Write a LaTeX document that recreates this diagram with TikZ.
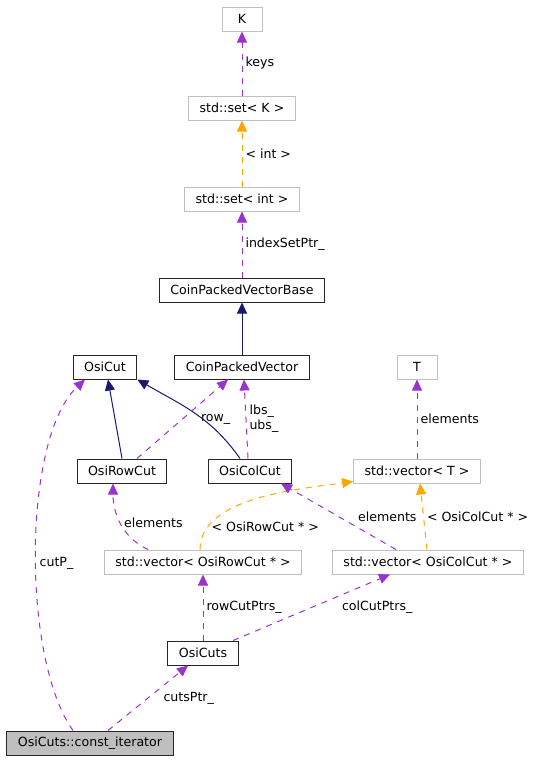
\documentclass[tikz,border=0pt]{standalone}
\usepackage{fontspec}
\setmainfont{DejaVu Sans}
\usetikzlibrary{positioning}
\usetikzlibrary{arrows.meta}
\tikzstyle{C} = [rectangle,draw=black!85,fill=white,line width=1pt,minimum height=24pt,minimum width=40pt,inner xsep=11pt,font=\fontsize{12.6}{15}\selectfont]
\tikzstyle{G} = [C,draw=black!25]
\tikzstyle{I} = [->,draw={rgb,255:red,25;green,25;blue,112},line width=1pt]
\tikzstyle{U} = [->,draw={rgb,255:red,154;green,50;blue,205},line width=1pt,dash pattern=on 6pt off 6pt]
\tikzstyle{O} = [U,draw={rgb,255:red,255;green,165;blue,0}]
\tikzstyle{L} = [inner sep=3pt,text=black,font=\fontsize{12.6}{15}\selectfont]
\tikzset{>={Triangle[length=11pt,width=10pt]}}

\begin{document}
\begin{tikzpicture}[on grid]
  \useasboundingbox (0,0) rectangle (540pt,-763pt);
  \node [G] (k) at (242pt,-19pt) {K};
  \node [G,below=89pt of k] (setk) {std::set< K >};
  \node [G,below=91pt of setk] (setint) {std::set< int >};
  \node [C,below=91pt of setint] (cpvb) {CoinPackedVectorBase};

  \node [C,below=77pt of cpvb] (cpv) {CoinPackedVector};
  \node [C,left=137pt of cpv] (osicut) {OsiCut};
  \node [G,right=175pt of cpv] (t) {T};

  \node [C,below right=104pt and 17pt of osicut] (rowcut) {OsiRowCut};
  \node [C,below right=104pt and 8pt of cpv] (colcut) {OsiColCut};
  \node [G,below=104pt of t] (vect) {std::vector< T >};

  \node [G,below right=91pt and 81pt of rowcut] (vecrow) {std::vector< OsiRowCut * >};
  \node [G,below right=91pt and 11pt of vect] (veccol) {std::vector< OsiColCut * >};

  \node [C,below=91pt of vecrow] (cuts) {OsiCuts};
  \node [C,fill=black!25,below left=90pt and 113pt of cuts] (iter) {OsiCuts::const\_iterator};

	\draw [U] (setk) -- node[L,right] {keys} (k);
	\draw [O] (setint) -- node[L,right] {< int >} (setk);
	\draw [U] (cpvb) -- node[L,right] {indexSetPtr\_} (setint);
	\draw [I] (cpv) -- (cpvb);

	\draw [I] (rowcut.north) -- ([xshift=3pt]osicut.south);
	\draw [I] ([xshift=-10pt]colcut.north) to[out=125,in=-30] (osicut.south east);
	\draw [U] ([xshift=15pt]rowcut.north) -- node[L,right=15pt] {row\_} ([xshift=-14pt]cpv.south);
	\draw [U] ([xshift=-2pt]colcut.north) -- node[L,right,align=left] {lbs\_\\ubs\_} ([xshift=2pt]cpv.south);
	\draw [U] (vect) -- node[L,right] {elements} (t);

	\draw [U] ([xshift=-55pt]vecrow.north) to[out=155,in=-90] node[L,right] {elements} ([xshift=-9pt]rowcut.south);
	\draw [O] ([xshift=-3pt]vecrow.north) to[out=90,in=188,looseness=0.8] node[L,pos=0.17,right] {< OsiRowCut * >} ([yshift=2pt]vect.south west);
	\draw [U] ([xshift=-32pt]veccol.north) -- node[L,right=16pt] {elements} ([xshift=31pt]colcut.south);
	\draw [O] ([xshift=-1pt]veccol.north) -- node[L,right] {< OsiColCut * >} ([xshift=3pt]vect.south);

	\draw [U] (cuts) -- node[L,right] {rowCutPtrs\_} (vecrow);
	\draw [U] ([xshift=30pt]cuts.north) -- node[L,right=27pt] {colCutPtrs\_} ([xshift=-38pt]veccol.south);
	\draw [U] ([xshift=18pt]iter.north) -- node[L,right=12pt] {cutsPtr\_} ([xshift=-15pt]cuts.south);
	\draw [U] ([xshift=-17pt]iter.north) .. controls +(-51pt,71pt) and +(-63pt,-59pt) .. node[L,pos=0.47,right] {cutP\_} ([xshift=-20pt]osicut.south);
\end{tikzpicture}
\end{document}
